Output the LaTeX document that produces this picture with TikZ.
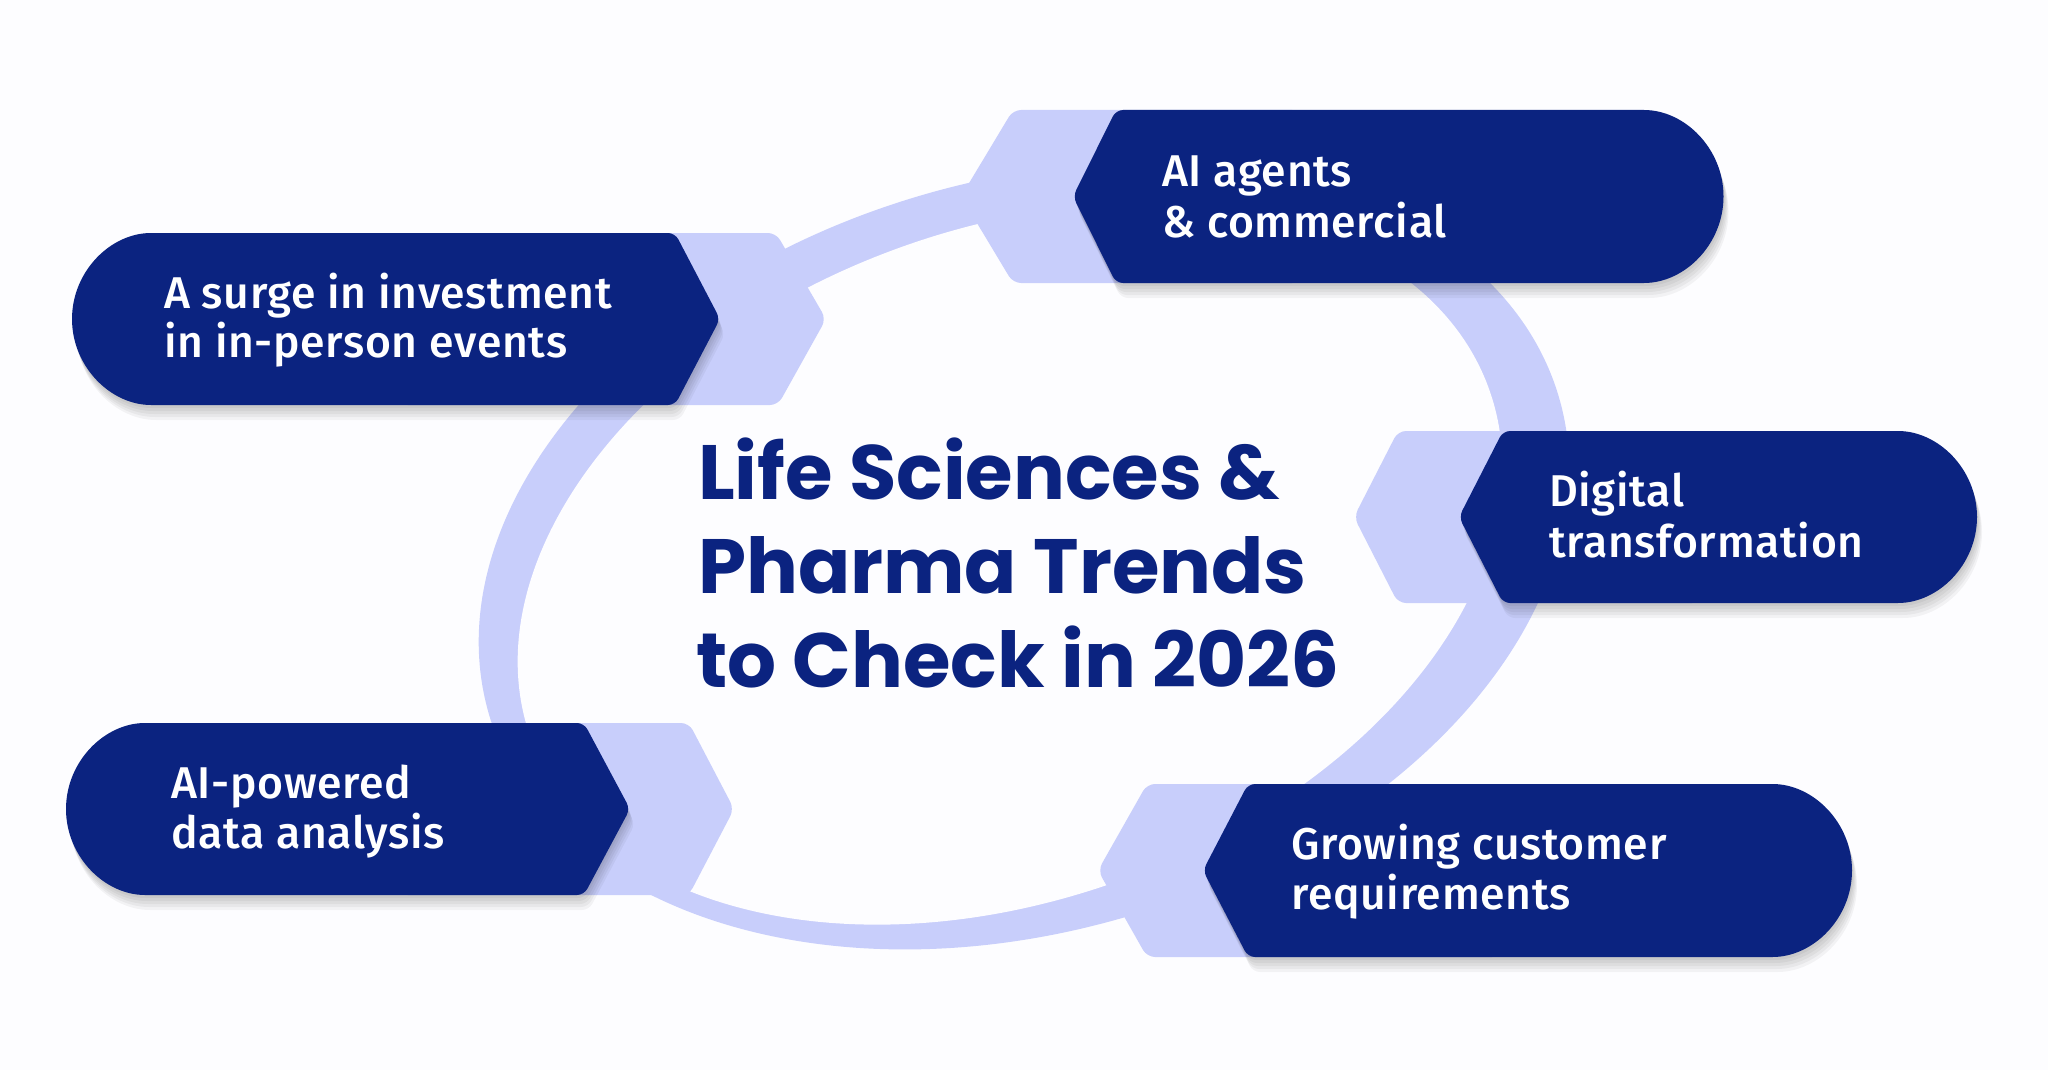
\documentclass[tikz,border=0pt]{standalone}
\usepackage{fontspec}
\newfontfamily\titlefont{Poppins}
\newfontfamily\labfont{Fira Sans Medium}[LetterSpace=1.5]
\definecolor{navy}{RGB}{11,35,128}
\definecolor{lav}{RGB}{200,206,251}
\definecolor{bgc}{RGB}{253,253,255}
\def\pA{(675,233) -- (720,319) -- (675,405) -- (158,405) arc[start angle=90,end angle=270,radius=86] -- cycle}
\def\pB{(1116,110) -- (1073,196.5) -- (1116,283) -- (1637,283) arc[start angle=90,end angle=-90,radius=86.5] -- cycle}
\def\pC{(1503,431) -- (1459,517) -- (1503,603) -- (1891,603) arc[start angle=90,end angle=-90,radius=86] -- cycle}
\def\pD{(584,723) -- (630,809) -- (584,895) -- (152,895) arc[start angle=90,end angle=270,radius=86] -- cycle}
\def\pE{(1248,784) -- (1203,870.5) -- (1248,957) -- (1765.5,957) arc[start angle=90,end angle=-90,radius=86.5] -- cycle}
\tikzset{
  darkbox/.style={fill=navy, rounded corners=7pt},
  lightbox/.style={fill=lav, rounded corners=8pt},
  shadowlayer/.style={fill=black, opacity=0.045, rounded corners=7pt},
  lab/.style={text=white, font=\labfont\fontsize{44.5}{50}\selectfont, anchor=base west, inner sep=0pt},
  ttl/.style={text=navy, font=\titlefont\bfseries\fontsize{77}{94}\selectfont, anchor=base west, inner sep=0pt}
}
\begin{document}
\begin{tikzpicture}[x=1pt,y=-1pt]
\useasboundingbox (0,0) rectangle (2048,1070);
\fill[bgc] (0,0) rectangle (2048,1070);
% ring
\fill[lav, rotate around={16.7:(1024,556)}] (1024,556) ellipse[x radius=558, y radius=375];
\fill[bgc, rotate around={20.3:(1010,564)}] (1010,564) ellipse[x radius=510, y radius=335];
% light boxes
\fill[lightbox] (400,233) -- (776,233) -- (826,319) -- (778,405) -- (400,405) -- cycle;
\fill[lightbox] (1300,110) -- (1013,110) -- (961,196.5) -- (1013,283) -- (1300,283) -- cycle;
\fill[lightbox] (1700,431) -- (1398,431) -- (1354,517) -- (1398,603) -- (1700,603) -- cycle;
\fill[lightbox] (400,723) -- (689,723) -- (734,809) -- (689,895) -- (400,895) -- cycle;
\fill[lightbox] (1500,784) -- (1147,784) -- (1098,870.5) -- (1147,957) -- (1500,957) -- cycle;
% shadows
\foreach \d in {3,6,9,12,15}{
  \fill[shadowlayer, shift={(\d/3,\d)}] \pA;
  \fill[shadowlayer, shift={(\d/3,\d)}] \pB;
  \fill[shadowlayer, shift={(\d/3,\d)}] \pC;
  \fill[shadowlayer, shift={(\d/3,\d)}] \pD;
  \fill[shadowlayer, shift={(\d/3,\d)}] \pE;
}
% dark boxes
\fill[darkbox] \pA;
\fill[darkbox] \pB;
\fill[darkbox] \pC;
\fill[darkbox] \pD;
\fill[darkbox] \pE;
% labels
\node[lab] (a1) at (164,308) {A surge in investment};
\node[lab] (a2) at (164,357) {in in-person events};
\node[lab] (b1) at (1162,186) {AI agents};
\node[lab] (b2) at (1162,237) {\& commercial};
\node[lab] (c1) at (1549,506) {Digital};
\node[lab] (c2) at (1549,557) {transformation};
\node[lab] (d1) at (171,798) {AI-powered};
\node[lab] (d2) at (171,848) {data analysis};
\node[lab] (e1) at (1291,859) {Growing customer};
\node[lab] (e2) at (1291,909) {requirements};
% title
\node[ttl] (t1) at (698,499) {Life Sciences \&};
\node[ttl] (t2) at (698,593) {Pharma Trends};
\node[ttl] (t3) at (696,687) {to Check in 2026};
\end{tikzpicture}
\end{document}
